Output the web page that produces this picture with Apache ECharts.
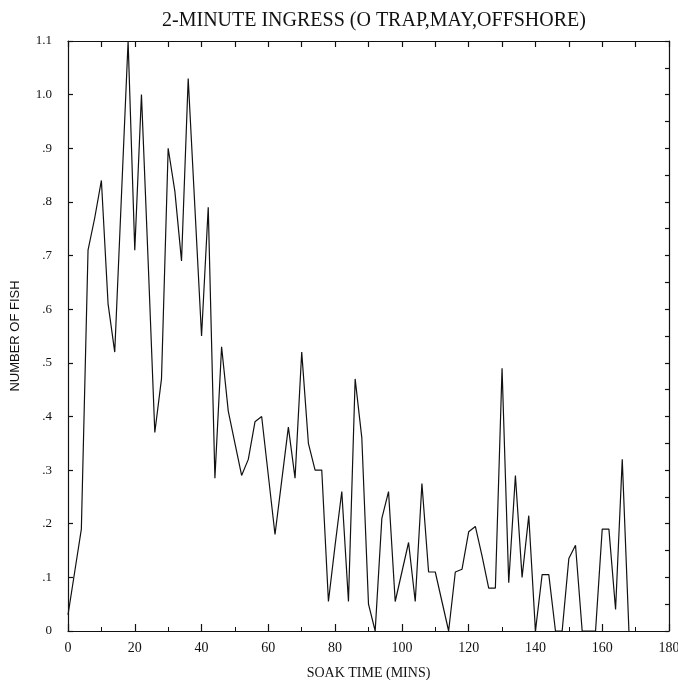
<!DOCTYPE html>
<html>
<head>
<meta charset="utf-8">
<script src="https://cdn.jsdelivr.net/npm/echarts@6/dist/echarts.min.js"></script>
<style>html,body{margin:0;padding:0;background:#fff}#c{width:678px;height:680px}</style>
</head>
<body>
<div id="c"></div>
<script>
const soakMinutes = [0,2,4,6,8,10,12,14,16,18,20,22,24,26,28,30,32,34,36,38,40,42,44,46,48,50,52,54,56,58,60,62,64,66,68,70,72,74,76,78,80,82,84,86,88,90,92,94,96,98,100,102,104,106,108,110,112,114,116,118,120,122,124,126,128,130,132,134,136,138,140,142,144,146,148,150,152,154,156,158,160,162,164,166,168];
const numberOfFish = [0.03,0.11,0.19,0.71,0.77,0.84,0.61,0.52,0.81,1.10,0.71,1.00,0.69,0.37,0.47,0.90,0.82,0.69,1.03,0.79,0.55,0.79,0.285,0.53,0.41,0.35,0.29,0.32,0.39,0.40,0.29,0.18,0.28,0.38,0.285,0.52,0.35,0.30,0.30,0.055,0.16,0.26,0.055,0.47,0.36,0.05,0.0,0.21,0.26,0.055,0.11,0.165,0.055,0.275,0.11,0.11,0.055,0.0,0.11,0.115,0.185,0.195,0.14,0.08,0.08,0.49,0.09,0.29,0.10,0.215,0.0,0.105,0.105,0.0,0.0,0.135,0.16,0.0,0.0,0.0,0.19,0.19,0.04,0.32,0.0];
const yTickLabels = ["0",".1",".2",".3",".4",".5",".6",".7",".8",".9","1.0","1.1"];
const titleText = "2-MINUTE INGRESS (O TRAP,MAY,OFFSHORE)";
const xTitle = "SOAK TIME (MINS)";
const yTitle = "NUMBER OF FISH";

const font = "Liberation Serif";
const chart = echarts.init(document.getElementById('c'));
const lineStyle = {color:'#111', width:1.2};
chart.setOption({
  animation:false,
  title:{text:titleText,left:369,top:6,textAlign:'center',
    textStyle:{fontFamily:font,fontSize:20,fontWeight:'normal',color:'#111'}},
  grid:{left:68,right:9,top:41,bottom:49,containLabel:false,outerBoundsMode:'none'},
  xAxis:[{
    type:'value',min:0,max:180,interval:20,position:'bottom',
    name:xTitle,nameLocation:'middle',nameGap:35,
    nameTextStyle:{fontFamily:font,fontSize:14,color:'#111'},
    axisLine:{show:true,onZero:false,lineStyle:lineStyle},
    axisTick:{show:true,inside:true,length:7,lineStyle:lineStyle},
    minorTick:{show:true,splitNumber:2,length:4,lineStyle:{color:'#111',width:1}},
    axisLabel:{fontFamily:font,fontSize:14,color:'#111',margin:10},
    splitLine:{show:false}
  },{
    type:'value',min:0,max:180,interval:10,position:'top',
    axisLine:{show:true,onZero:false,lineStyle:lineStyle},
    axisTick:{show:true,inside:true,length:6,lineStyle:lineStyle},
    axisLabel:{show:false},splitLine:{show:false}
  }],
  yAxis:[{
    type:'value',min:0,max:1.1,interval:0.1,position:'left',
    name:yTitle,nameLocation:'middle',nameGap:46,nameRotate:90,
    nameTextStyle:{fontFamily:'Liberation Sans',fontSize:13,color:'#111'},
    axisLine:{show:true,onZero:false,lineStyle:lineStyle},
    axisTick:{show:true,inside:true,length:5,lineStyle:lineStyle},
    axisLabel:{fontFamily:font,fontSize:13,color:'#111',margin:16,
      formatter:v=>yTickLabels[Math.round(v*10)]},
    splitLine:{show:false}
  },{
    type:'value',min:0,max:1.1,interval:0.05,position:'right',
    axisLine:{show:true,onZero:false,lineStyle:lineStyle},
    axisTick:{show:true,inside:true,length:4,lineStyle:lineStyle},
    axisLabel:{show:false},splitLine:{show:false}
  }],
  series:[{
    type:'line',xAxisIndex:0,yAxisIndex:0,
    data:soakMinutes.map((m,i)=>[m,numberOfFish[i]]),
    showSymbol:false,symbol:'none',
    lineStyle:{color:'#111',width:1.2}
  }]
});
</script>
</body>
</html>
